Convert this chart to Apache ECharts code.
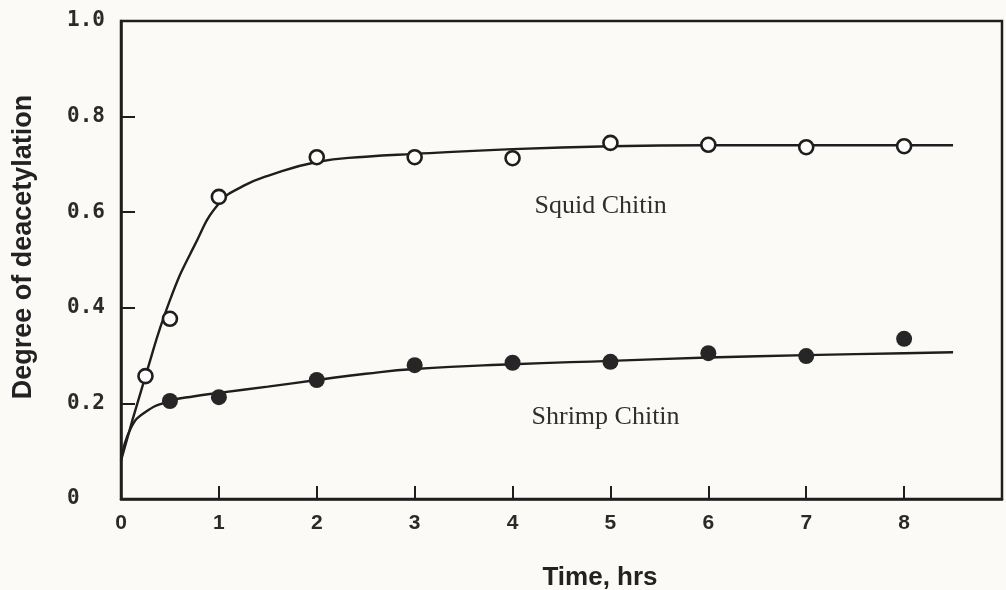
<!DOCTYPE html>
<html>
<head>
<meta charset="utf-8">
<script src="https://cdn.jsdelivr.net/npm/echarts@6/dist/echarts.min.js"></script>
<style>
  html, body { margin: 0; padding: 0; background: #fbfaf7; }
  #chart { width: 1006px; height: 590px; }
</style>
</head>
<body>
<div id="chart"></div>
<script>
// Measured points: time (hrs) and degree of deacetylation
const squidTime = [0.25, 0.5, 1, 2, 3, 4, 5, 6, 7, 8];
const squidDeg  = [0.257, 0.377, 0.632, 0.715, 0.715, 0.713, 0.745, 0.741, 0.736, 0.738];

const shrimpTime = [0.5, 1, 2, 3, 4, 5, 6, 7, 8];
const shrimpDeg  = [0.205, 0.213, 0.249, 0.280, 0.285, 0.287, 0.305, 0.299, 0.335];

// Fitted curves, read along their drawn paths
const squidCurveTime = [0, 0.25, 0.5, 0.75, 1.0, 1.25, 1.5, 2, 2.5, 3, 4, 5, 6, 7, 8, 8.5];
const squidCurveDeg  = [0.08, 0.257, 0.416, 0.53, 0.618, 0.655, 0.676, 0.705, 0.716, 0.722, 0.732, 0.738, 0.740, 0.740, 0.740, 0.740];

const shrimpCurveTime = [0, 0.1, 0.25, 0.5, 0.75, 1, 1.5, 2, 2.5, 3, 4, 5, 6, 7, 8, 8.5];
const shrimpCurveDeg  = [0.08, 0.148, 0.182, 0.205, 0.215, 0.222, 0.235, 0.249, 0.262, 0.272, 0.282, 0.289, 0.296, 0.301, 0.305, 0.307];

// Axis ticks
const xTicks = [0, 1, 2, 3, 4, 5, 6, 7, 8];
const yTickLabels = { 0: '0', 0.2: '0.2', 0.4: '0.4', 0.6: '0.6', 0.8: '0.8', 1: '1.0' };

// In-plot captions and where they sit (data coordinates)
const captionText = ['Squid Chitin', 'Shrimp Chitin'];
const captionTime = [4.9, 4.95];
const captionDeg  = [0.612, 0.172];

const ink = '#1e1e1e';
const pairs = (xs, ys) => xs.map((x, i) => [x, ys[i]]);

const chart = echarts.init(document.getElementById('chart'), null, { renderer: 'canvas' });

chart.setOption({
  backgroundColor: '#fbfaf7',
  animation: false,
  grid: {
    left: 121, right: 4, top: 21, bottom: 91,
    show: true, borderColor: ink, borderWidth: 2.5, backgroundColor: 'transparent'
  },
  xAxis: {
    type: 'value', min: 0, max: 9, interval: 1,
    axisLine: { show: true, lineStyle: { color: ink, width: 2.5 } },
    axisTick: { show: true, inside: true, length: 13, lineStyle: { color: ink, width: 2 } },
    splitLine: { show: false },
    axisLabel: {
      margin: 14,
      color: '#2a2a2a',
      fontFamily: 'Liberation Sans',
      fontSize: 21,
      fontWeight: 'bold',
      formatter: v => (xTicks.indexOf(v) >= 0 ? String(v) : '')
    }
  },
  yAxis: {
    type: 'value', min: 0, max: 1, interval: 0.2,
    axisLine: { show: true, lineStyle: { color: ink, width: 2.5 } },
    axisTick: { show: true, inside: true, length: 14, lineStyle: { color: ink, width: 2 } },
    splitLine: { show: false },
    axisLabel: {
      margin: 54,
      align: 'left',
      color: '#2a2a2a',
      fontFamily: 'DejaVu Sans Mono',
      fontSize: 21,
      fontWeight: 'bold',
      formatter: v => yTickLabels[Math.round(v * 10) / 10] || ''
    }
  },
  series: [
    {
      name: 'Squid Chitin fit', type: 'line',
      data: pairs(squidCurveTime, squidCurveDeg),
      smooth: 0.5, showSymbol: false,
      lineStyle: { color: ink, width: 2.4 }, z: 2
    },
    {
      name: 'Shrimp Chitin fit', type: 'line',
      data: pairs(shrimpCurveTime, shrimpCurveDeg),
      smooth: 0.5, showSymbol: false,
      lineStyle: { color: ink, width: 2.4 }, z: 2
    },
    {
      name: 'Squid Chitin', type: 'scatter',
      data: pairs(squidTime, squidDeg),
      symbol: 'circle', symbolSize: 14,
      itemStyle: { color: '#fdfdfb', borderColor: ink, borderWidth: 2.6, opacity: 1 },
      z: 5
    },
    {
      name: 'Shrimp Chitin', type: 'scatter',
      data: pairs(shrimpTime, shrimpDeg),
      symbol: 'circle', symbolSize: 16,
      itemStyle: { color: '#262626', opacity: 1 },
      z: 5
    }
  ]
});

// Axis titles and curve captions
const captions = captionText.map((t, i) => {
  const p = chart.convertToPixel({ gridIndex: 0 }, [captionTime[i], captionDeg[i]]);
  return {
    type: 'text', x: p[0], y: p[1], z: 10,
    style: {
      text: t, fill: '#2e2e2e',
      font: '26px "Liberation Serif"',
      textAlign: 'center', textVerticalAlign: 'middle'
    }
  };
});

chart.setOption({
  graphic: [
    ...captions,
    {
      type: 'text', x: 24, y: 247, rotation: Math.PI / 2, z: 10,
      style: {
        text: 'Degree of deacetylation', fill: '#222',
        font: 'bold 27px "Liberation Sans"',
        textAlign: 'center', textVerticalAlign: 'middle'
      }
    },
    {
      type: 'text', x: 600, y: 578, z: 10,
      style: {
        text: 'Time, hrs', fill: '#222',
        font: 'bold 26px "Liberation Sans"',
        textAlign: 'center', textVerticalAlign: 'middle'
      }
    }
  ]
});
</script>
</body>
</html>
